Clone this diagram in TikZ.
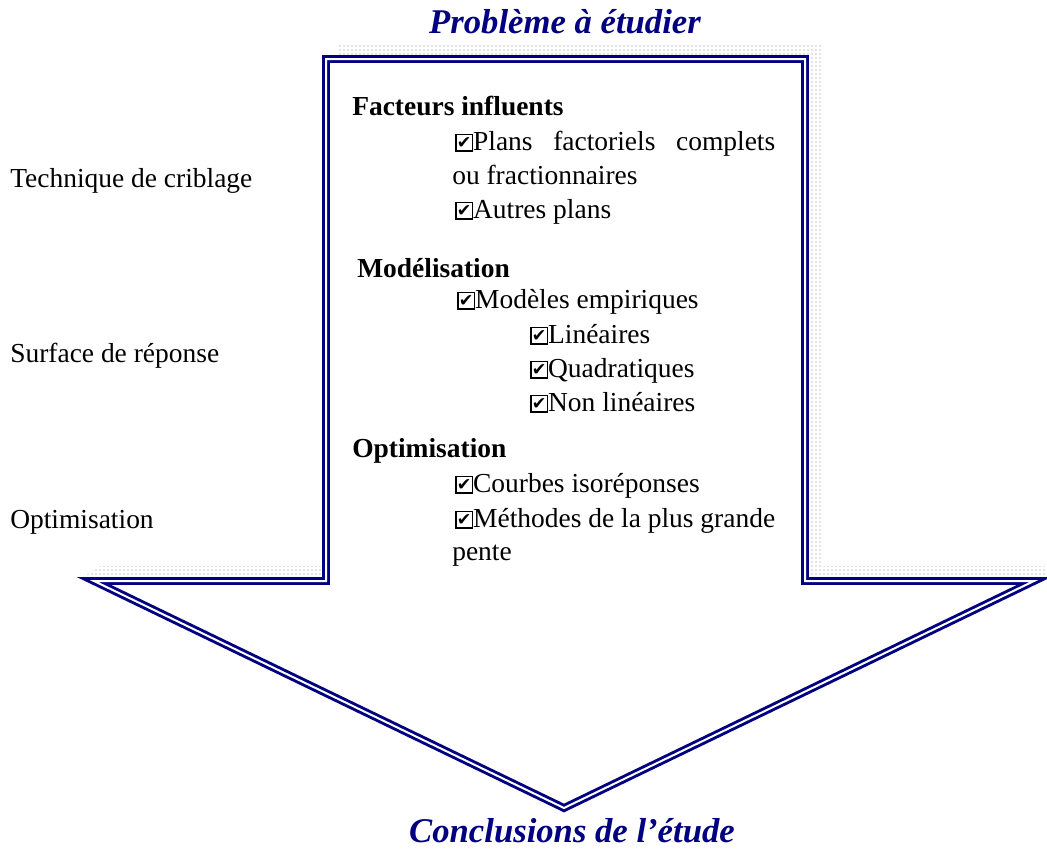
\documentclass[tikz,border=0pt]{standalone}
\usepackage{fontspec}
\setmainfont{Liberation Serif}
\newfontfamily\symbfont{DejaVu Sans}
\usetikzlibrary{patterns}
\definecolor{bleunuit}{RGB}{0,0,128}
\newcommand{\coche}{{\setlength\fboxrule{1.2pt}\setlength\fboxsep{0pt}%
    \fbox{\makebox[11pt][c]{\rule{0pt}{11pt}\raisebox{0.8pt}{\symbfont\bfseries\fontsize{13}{14}\selectfont\char"2714}}}}}

\begin{document}
\begin{tikzpicture}[x=0.75pt,y=-0.75pt,
    txt/.style={anchor=base west,inner sep=0pt,font=\fontsize{20.6}{24}\selectfont},
    rubrique/.style={txt,font=\fontsize{20.6}{24}\selectfont\bfseries},
    titre/.style={anchor=base,inner sep=0pt,text=bleunuit,font=\fontsize{26}{30}\selectfont\bfseries\itshape}]
    \useasboundingbox (0,0) rectangle (1047,850);

    % ombre pointillee
    \fill[pattern=dots,pattern color=gray!90] (98,566) -- (338,566) -- (338,45) -- (823,45)
        -- (823,566) -- (1047,566) -- (1047,580) -- (80,580) -- cycle;
    % grande fleche
    \draw[bleunuit,fill=white,line width=2.2pt,double=white,double distance=1.5pt]
        (326,59) -- (805,59) -- (805,581) -- (1034,581) -- (564,808) -- (94,581) -- (326,581) -- cycle;

    \node[titre] (probleme) at (565,33) {Problème à étudier};
    \node[titre] (conclusions) at (572,842) {Conclusions de l’étude};

    \node[txt] (criblage) at (10,187) {Technique de criblage};
    \node[txt] (surface) at (10,362) {Surface de réponse};
    \node[txt] (optimgauche) at (10,528) {Optimisation};

    \node[rubrique] (facteurs) at (352,115) {Facteurs influents};
    \node[txt] (plans) at (455,150) {\makebox[240pt][s]{\coche Plans factoriels complets}};
    \node[txt] (fraction) at (452,184) {ou fractionnaires};
    \node[txt] (autres) at (455,218) {\coche Autres plans};

    \node[rubrique] (modelisation) at (357,277) {Modélisation};
    \node[txt] (modeles) at (457,308) {\coche Modèles empiriques};
    \node[txt] (lineaires) at (530,343) {\coche Linéaires};
    \node[txt] (quadra) at (530,377) {\coche Quadratiques};
    \node[txt] (nonlin) at (530,411) {\coche Non linéaires};

    \node[rubrique] (optim) at (352,457) {Optimisation};
    \node[txt] (courbes) at (455,492) {\coche Courbes isoréponses};
    \node[txt] (methodes) at (455,527) {\coche Méthodes de la plus grande};
    \node[txt] (pente) at (452,560) {pente};
\end{tikzpicture}
\end{document}
